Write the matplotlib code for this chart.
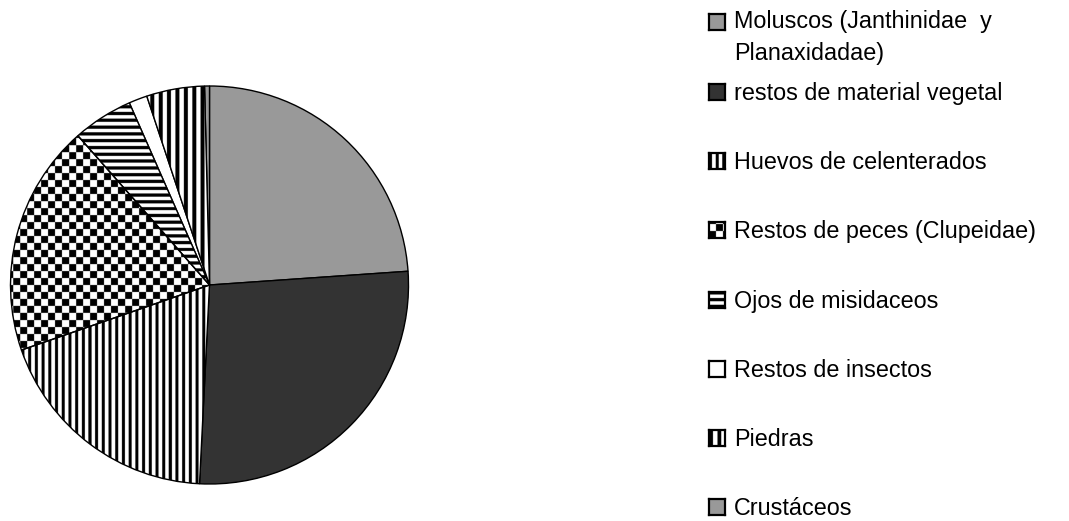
import numpy as np
import matplotlib.pyplot as plt

plt.rcParams['font.family'] = ['Liberation Sans', 'DejaVu Sans']

labels = ["Moluscos (Janthinidae  y\nPlanaxidadae)", "restos de material vegetal",
          "Huevos de celenterados", "Restos de peces (Clupeidae)", "Ojos de misidaceos",
          "Restos de insectos", "Piedras", "Crustáceos"]
values = [23.9, 26.9, 18.9, 18.8, 4.9, 1.5, 4.7, 0.4]
fills = ["#999999", "#333333", "vstripe", "checker", "hstripe", "#ffffff", "vstripe_wide", "#999999"]


def pattern(kind, x, y):
    # x, y en pixels
    if kind == "vstripe":
        return (np.mod(x, 6.7) > 3.0).astype(float)
    if kind == "vstripe_wide":
        return (np.mod(x, 8.4) > 4.0).astype(float)
    if kind == "hstripe":
        return (np.mod(y, 6.8) > 3.2).astype(float)
    # damier
    return ((np.floor(x / 7.0) + np.floor(y / 7.0)) % 2).astype(float)


W, H = 1069, 521
R = 199  # rayon du camembert en px
fig = plt.figure(figsize=(W / 100, H / 100), dpi=100)
ax = fig.add_axes([(209.5 - 200) / W, (236 - 200) / H, 400 / W, 400 / H])

wedges, _ = ax.pie(values, colors=[c if c.startswith('#') else 'white' for c in fills],
                   startangle=90, counterclock=False, radius=1,
                   wedgeprops=dict(edgecolor='black', linewidth=1.0))

g = np.linspace(-1.0, 1.0, 1600)
gx, gy = np.meshgrid(g * R, g * R)
for w, kind in zip(wedges, fills):
    if kind.startswith('#'):
        continue
    im = ax.imshow(pattern(kind, gx, gy), cmap='gray', vmin=0, vmax=1,
                   extent=[-1, 1, -1, 1], origin='lower', zorder=1)
    im.set_clip_path(w)
    w.set_facecolor('none')
    w.set_zorder(2)

ax.set_xlim(-200 / R, 200 / R)
ax.set_ylim(-200 / R, 200 / R)
ax.set_axis_off()

# legende
ys = [22] + [92 + 69.2 * i for i in range(7)]
for lab, kind, yc in zip(labels, fills, ys):
    mx = fig.add_axes([709 / W, 1 - (yc + 8) / H, 16 / W, 16 / H])
    if kind.startswith('#'):
        mx.set_facecolor(kind)
    else:
        s = np.linspace(0, 16, 64)
        sx, sy = np.meshgrid(s, s)
        mx.imshow(pattern(kind, sx, sy), cmap='gray', vmin=0, vmax=1,
                  extent=[0, 16, 0, 16], origin='lower', aspect='auto')
    mx.set_xticks([])
    mx.set_yticks([])
    for sp in mx.spines.values():
        sp.set_linewidth(1.6)
    nl = lab.count('\n')
    fig.text(734 / W, 1 - (yc + 8 + 30 * nl) / H, lab, fontsize=16.8, va='baseline',
             linespacing=1.5)

fig.savefig('out.png', dpi=100)
